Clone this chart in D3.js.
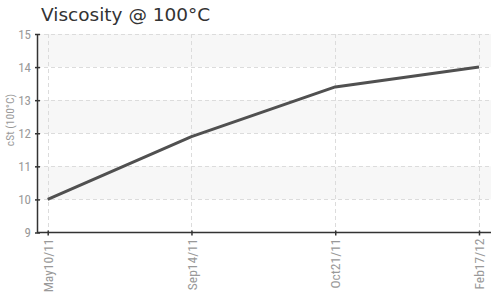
<!DOCTYPE html>
<html>
<head>
<meta charset="utf-8">
<script src="https://cdn.jsdelivr.net/npm/d3@7"></script>
<style>
    body { margin: 0; background: #fff; }
    svg { display: block; }
</style>
</head>
<body>
<svg id="chart" width="491" height="296"></svg>
<script>
const dates = ["May10/11", "Sep14/11", "Oct21/11", "Feb17/12"];
const viscosity = [10.0, 11.9, 13.4, 14.0];
const yTicks = [9, 10, 11, 12, 13, 14, 15];

const plotLeft = 37, plotRight = 491, plotTop = 34, plotBottom = 232.5;

const svg = d3.select("#chart");

const x = d3.scalePoint().domain(dates).range([47.7, 479]);
const y = d3.scaleLinear().domain([9, 15]).range([plotBottom, plotTop]);

// alternating bands (10-11, 12-13, 14-15)
svg.append("g")
    .selectAll("rect")
    .data(yTicks.filter(t => t < 15 && (t - 9) % 2 === 1))
    .enter().append("rect")
    .attr("x", plotLeft)
    .attr("y", d => y(d + 1))
    .attr("width", plotRight - plotLeft)
    .attr("height", d => y(d) - y(d + 1))
    .attr("fill", "#f7f7f7");

// horizontal grid
svg.append("g")
    .selectAll("line")
    .data(yTicks.slice(1))
    .enter().append("line")
    .attr("x1", plotLeft).attr("x2", plotRight)
    .attr("y1", d => Math.round(y(d)) + 0.5).attr("y2", d => Math.round(y(d)) + 0.5)
    .attr("stroke", "#dcdcdc")
    .attr("stroke-dasharray", "4,3");

// vertical grid
svg.append("g")
    .selectAll("line")
    .data(dates)
    .enter().append("line")
    .attr("x1", d => Math.round(x(d)) + 0.5).attr("x2", d => Math.round(x(d)) + 0.5)
    .attr("y1", plotTop).attr("y2", plotBottom)
    .attr("stroke", "#dcdcdc")
    .attr("stroke-dasharray", "4,3");

// line
svg.append("path")
    .datum(viscosity)
    .attr("d", d3.line().x((d, i) => x(dates[i])).y(d => y(d)))
    .attr("fill", "none")
    .attr("stroke", "#505050")
    .attr("stroke-width", 3)
    .attr("stroke-linejoin", "round");

const tickFont = "'Liberation Sans Narrow', 'Arial Narrow', 'Roboto Condensed', sans-serif";

// y axis
const yAxis = svg.append("g")
    .attr("transform", `translate(${plotLeft},0)`)
    .call(d3.axisLeft(y).tickValues(yTicks).tickFormat(d3.format("d"))
        .tickSize(2).tickSizeOuter(0).tickPadding(4));
yAxis.select(".domain").attr("stroke", "#333").attr("stroke-width", 1.5);
yAxis.selectAll(".tick line").attr("stroke", "#333").attr("x1", 3).attr("x2", -2).attr("stroke-width", 1.5);
yAxis.selectAll(".tick text")
    .attr("fill", "#999")
    .attr("font-family", tickFont)
    .attr("font-size", "13px");

// x axis
const xAxis = svg.append("g")
    .attr("transform", `translate(0,${plotBottom})`)
    .call(d3.axisBottom(x).tickSize(3).tickSizeOuter(0));
xAxis.select(".domain").attr("stroke", "#333").attr("stroke-width", 1.5)
    .attr("d", `M${plotLeft},0H${plotRight}`);
xAxis.selectAll(".tick line").attr("stroke", "#333").attr("y1", -2).attr("y2", 3).attr("stroke-width", 1.5);
xAxis.selectAll(".tick text")
    .attr("fill", "#999")
    .attr("font-family", tickFont)
    .attr("font-size", "13.5px")
    .attr("text-anchor", "end")
    .attr("transform", "rotate(-90)")
    .attr("x", -6)
    .attr("y", 0)
    .attr("dy", "0.35em");

// y axis title
svg.append("text")
    .attr("transform", `translate(10,120) rotate(-90)`)
    .attr("text-anchor", "middle")
    .attr("dy", "0.35em")
    .attr("fill", "#999")
    .attr("font-family", tickFont)
    .attr("font-size", "11.5px")
    .text("cSt (100°C)");

// title
svg.append("text")
    .attr("x", 41)
    .attr("y", 21)
    .attr("fill", "#333")
    .attr("font-family", "'DejaVu Sans', Verdana, sans-serif")
    .attr("font-size", "18.5px")
    .text("Viscosity @ 100°C");
</script>
</body>
</html>
